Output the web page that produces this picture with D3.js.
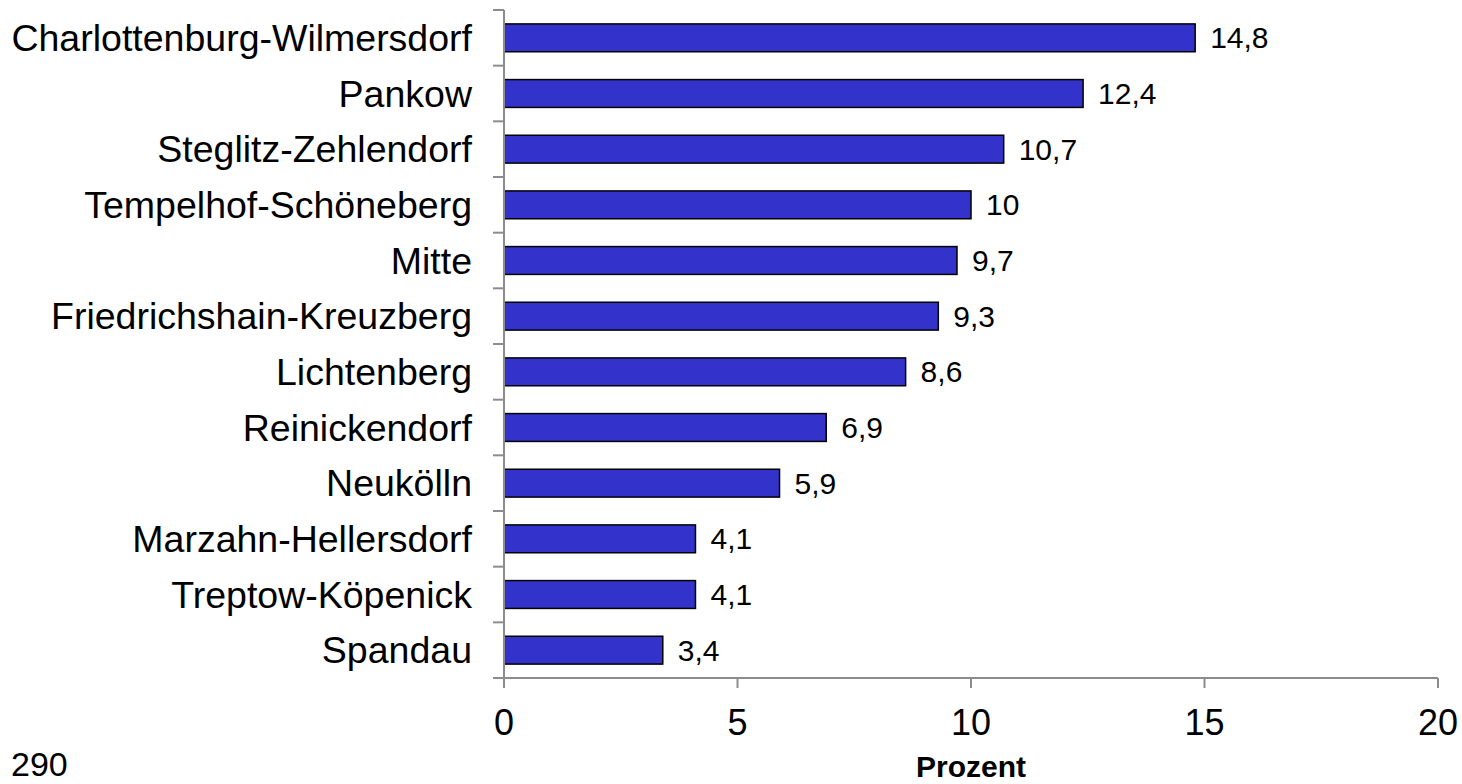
<!DOCTYPE html>
<html><head><meta charset="utf-8">
<script src="https://cdn.jsdelivr.net/npm/d3@7"></script>
<style>
html,body{margin:0;padding:0;background:#fff;overflow:hidden;}
text{font-family:"Liberation Sans",Arial,sans-serif;fill:#000;}
</style></head>
<body><svg id="c" width="1462" height="784"></svg>
<script>
const categories = ["Charlottenburg-Wilmersdorf","Pankow","Steglitz-Zehlendorf","Tempelhof-Schöneberg","Mitte","Friedrichshain-Kreuzberg","Lichtenberg","Reinickendorf","Neukölln","Marzahn-Hellersdorf","Treptow-Köpenick","Spandau"];
const values = [14.8,12.4,10.7,10,9.7,9.3,8.6,6.9,5.9,4.1,4.1,3.4];
const valueLabels = ["14,8","12,4","10,7","10","9,7","9,3","8,6","6,9","5,9","4,1","4,1","3,4"];
const xTicks = [0,5,10,15,20];
const xTitle = "Prozent";
const pageNumber = "290";

const svg = d3.select("#c");
const x = d3.scaleLinear().domain([0,20]).range([504,1438]);
const y = d3.scaleBand().domain(categories).range([10,678]).paddingInner(0.5).paddingOuter(0.25);
const axisColor = "#8c8c8c";

// bars
svg.selectAll("rect.bar").data(categories).join("rect")
  .attr("x", x(0)).attr("y", d=>y(d))
  .attr("width", (d,i)=>x(values[i])-x(0)).attr("height", y.bandwidth())
  .attr("fill","#3333cc").attr("stroke","#000").attr("stroke-width",1.5);

// y axis line & ticks at band boundaries
const step = y.step();
const bounds = categories.map(c=>y(c)-step*0.25).concat([y(categories[categories.length-1])+y.bandwidth()+step*0.25]);
svg.append("line").attr("x1",x(0)).attr("x2",x(0)).attr("y1",bounds[0]).attr("y2",bounds[bounds.length-1])
  .attr("stroke",axisColor).attr("stroke-width",2);
svg.selectAll("line.yt").data(bounds).join("line")
  .attr("x1",x(0)-11).attr("x2",x(0)).attr("y1",d=>d).attr("y2",d=>d)
  .attr("stroke",axisColor).attr("stroke-width",2);

// x axis
const yAxis = bounds[bounds.length-1];
svg.append("line").attr("x1",x(0)-11).attr("x2",x(20)).attr("y1",yAxis).attr("y2",yAxis)
  .attr("stroke",axisColor).attr("stroke-width",2);
svg.selectAll("line.xt").data(xTicks).join("line")
  .attr("x1",d=>x(d)).attr("x2",d=>x(d)).attr("y1",yAxis).attr("y2",yAxis+10)
  .attr("stroke",axisColor).attr("stroke-width",2);
svg.selectAll("text.xl").data(xTicks).join("text")
  .attr("x",d=>x(d)).attr("y",735)
  .attr("text-anchor","middle").attr("font-size",36).text(d=>d);

// category labels
svg.selectAll("text.cat").data(categories).join("text")
  .attr("x",472).attr("y",d=>y(d)+y.bandwidth()/2+13)
  .attr("text-anchor","end").attr("font-size",37.5).text(d=>d);

// value labels
svg.selectAll("text.val").data(categories).join("text")
  .attr("x",(d,i)=>x(values[i])+15).attr("y",d=>y(d)+y.bandwidth()/2+10.5)
  .attr("font-size",30).text((d,i)=>valueLabels[i]);

// axis title
svg.append("text").attr("x",971).attr("y",777).attr("text-anchor","middle")
  .attr("font-size",30).attr("font-weight","bold").text(xTitle);

// page number
svg.append("text").attr("x",11).attr("y",776).attr("font-size",34).text(pageNumber);
</script></body></html>
